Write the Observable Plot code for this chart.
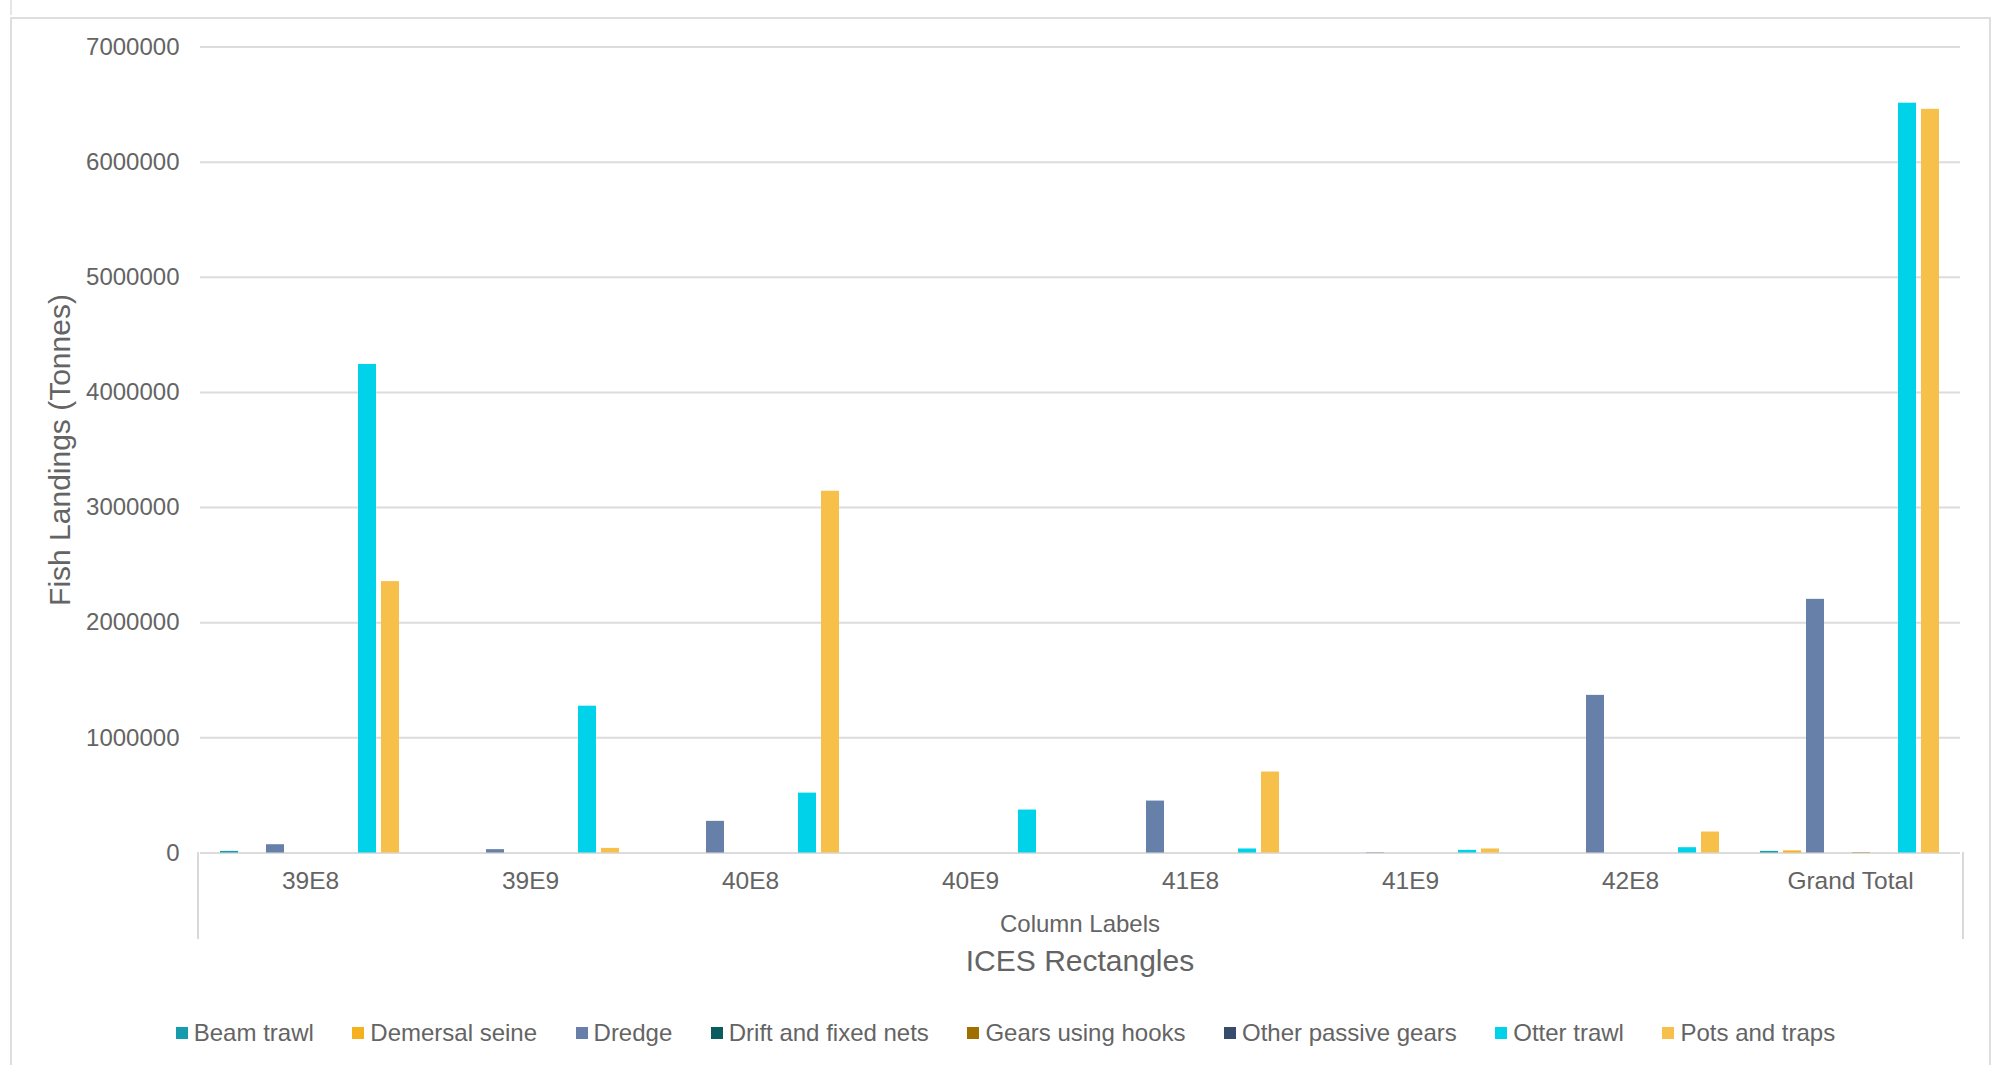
<!DOCTYPE html>
<html>
<head>
<meta charset="utf-8">
<script src="https://cdn.jsdelivr.net/npm/d3@7"></script>
<script src="https://cdn.jsdelivr.net/npm/@observablehq/plot@0.6"></script>
<style>
  html, body { margin: 0; padding: 0; background: #ffffff; }
  #wrap { position: relative; width: 2004px; height: 1065px; overflow: hidden;
          font-family: "Liberation Sans", Arial, sans-serif; color: #646464; }
  #frame { position: absolute; left: 10px; top: 17px; width: 1981px; height: 1100px;
           border: 2px solid #dedede; box-sizing: border-box; }
  #topmark { position: absolute; left: 10px; top: 0; width: 2px; height: 15px; background: #e6e6e6; }
  #chart { position: absolute; left: 0; top: 0; }
  #catbox { position: absolute; left: 197px; top: 852px; width: 1767px; height: 87px;
            border-left: 2px solid #d9d9d9; border-right: 2px solid #d9d9d9; box-sizing: border-box; }
  .lbl { position: absolute; white-space: nowrap; transform: translate(-50%, -50%); }
  #ytitle { position: absolute; left: 60px; top: 450px; white-space: nowrap; font-size: 30px;
            transform: translate(-50%, -50%) rotate(-90deg); }
  #legend { position: absolute; left: 14px; width: 1983px; top: 1013px; height: 40px;
            display: flex; justify-content: center; align-items: center; font-size: 24px; }
  .item { display: flex; align-items: center; margin: 0 19.25px; }
  .sw { width: 12px; height: 12px; margin-right: 6px; }
</style>
</head>
<body>
<div id="wrap">
  <div id="topmark"></div>
  <div id="frame"></div>
  <div id="chart"></div>
  <div id="catbox"></div>
  <div class="lbl" id="collab" style="left:1080px; top:924px; font-size:24px;">Column Labels</div>
  <div class="lbl" id="xtitle" style="left:1080px; top:961px; font-size:30px;">ICES Rectangles</div>
  <div id="ytitle">Fish Landings (Tonnes)</div>
  <div id="legend"></div>
</div>
<script>
// ---- data ----
const categories = ["39E8", "39E9", "40E8", "40E9", "41E8", "41E9", "42E8", "Grand Total"];
const gears = ["Beam trawl", "Demersal seine", "Dredge", "Drift and fixed nets",
               "Gears using hooks", "Other passive gears", "Otter trawl", "Pots and traps"];
const gearColors = ["#169cad", "#f5b120", "#6780aa", "#0b5c5f", "#a06f00", "#374c6b", "#00d2ea", "#f7c04a"];

const beamTrawl      = [14000, 0, 0, 0, 0, 0, 0, 14000];
const demersalSeine  = [0, 0, 0, 0, 0, 0, 0, 18000];
const dredge         = [72000, 29000, 275000, 0, 451000, 3000, 1369000, 2203000];
const driftNets      = [0, 0, 0, 0, 0, 0, 0, 0];
const hooks          = [0, 0, 0, 0, 0, 0, 0, 3000];
const otherPassive   = [0, 0, 0, 0, 0, 0, 0, 0];
const otterTrawl     = [4243000, 1275000, 520000, 373000, 35000, 23000, 46000, 6512000];
const potsTraps      = [2357000, 40000, 3142000, 0, 703000, 35000, 182000, 6459000];

const yTicks = [0, 1000000, 2000000, 3000000, 4000000, 5000000, 6000000, 7000000];

const seriesValues = [beamTrawl, demersalSeine, dredge, driftNets, hooks, otherPassive, otterTrawl, potsTraps];
const data = [];
categories.forEach((c, i) => {
  gears.forEach((g, j) => data.push({cat: c, gear: g, value: seriesValues[j][i]}));
});

const chart = Plot.plot({
  width: 2004,
  height: 900,
  marginLeft: 198,
  marginRight: 42,
  marginTop: 46.5,
  marginBottom: 47.5,
  style: {fontFamily: "'Liberation Sans', Arial, sans-serif", fontSize: "24px", color: "#646464", background: "transparent", overflow: "visible"},
  fx: {domain: categories, paddingInner: 0, paddingOuter: 0, label: null},
  x: {domain: gears, paddingInner: 0.215, paddingOuter: 0.87, axis: null},
  y: {domain: [0, 7000000], label: null},
  color: {domain: gears, range: gearColors},
  marks: [
    Plot.gridY(yTicks, {stroke: "#dcdcdc", strokeOpacity: 1, strokeWidth: 2}),
    Plot.axisY(yTicks, {tickSize: 0, tickPadding: 21, tickFormat: d3.format("d"), fontSize: 24, label: null, fill: "#646464"}),
    Plot.axisFx({anchor: "bottom", tickSize: 0, tickPadding: 19, fontSize: 24.5, label: null, fill: "#646464"}),
    Plot.barY(data, {fx: "cat", x: "gear", y: "value", fill: "gear"})
  ]
});
document.getElementById("chart").appendChild(chart);

const legend = document.getElementById("legend");
gears.forEach((g, j) => {
  const it = document.createElement("div");
  it.className = "item";
  const sw = document.createElement("div");
  sw.className = "sw";
  sw.style.background = gearColors[j];
  const tx = document.createElement("span");
  tx.textContent = g;
  it.appendChild(sw);
  it.appendChild(tx);
  legend.appendChild(it);
});
</script>
</body>
</html>
